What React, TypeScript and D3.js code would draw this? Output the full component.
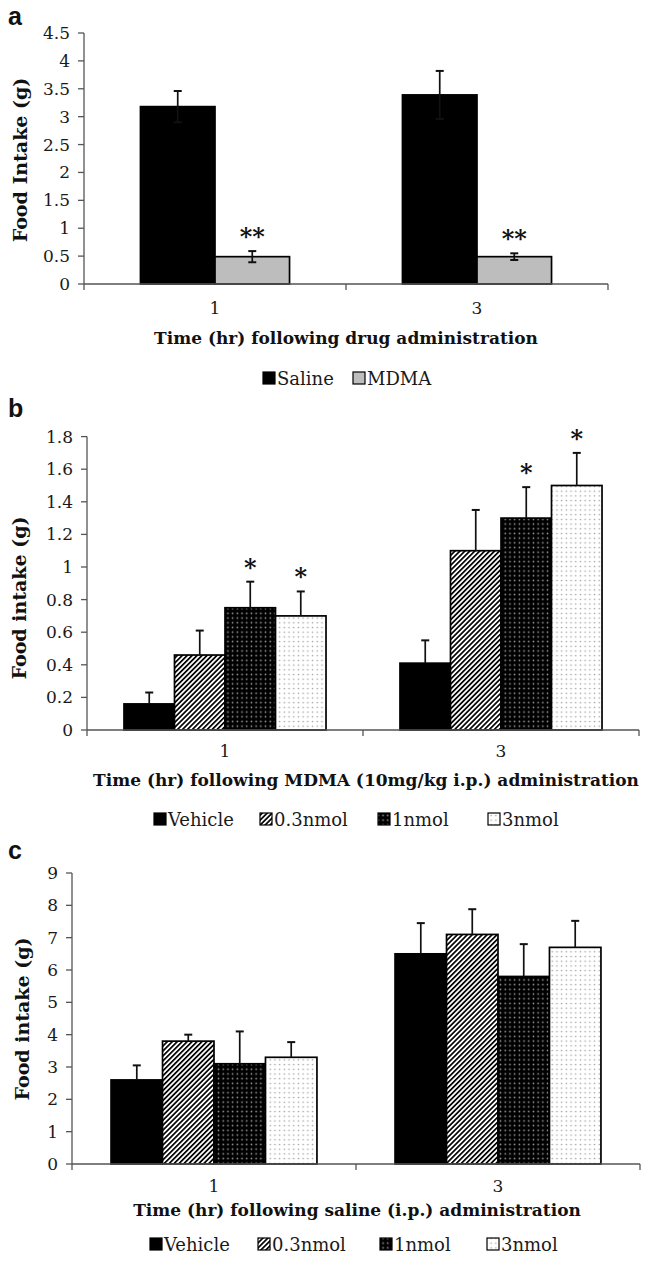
import React from "react";
import * as d3 from "d3";

// ---------- DATA ----------
const timeCats = ["1", "3"];

// Panel a
const seriesA = ["Saline", "MDMA"];
const saline = [3.18, 3.39];
const salineErr = [0.28, 0.43];
const mdma = [0.49, 0.49];
const mdmaErr = [0.1, 0.06];
const starsA = ["", "**"]; // per series (applies to both times)
const ticksA = [0, 0.5, 1, 1.5, 2, 2.5, 3, 3.5, 4, 4.5];

// Panel b & c series
const seriesBC = ["Vehicle", "0.3nmol", "1nmol", "3nmol"];

// Panel b (MDMA)
const bVehicle = [0.16, 0.41];
const bVehicleErr = [0.07, 0.14];
const b03 = [0.46, 1.1];
const b03Err = [0.15, 0.25];
const b1 = [0.75, 1.3];
const b1Err = [0.16, 0.19];
const b3 = [0.7, 1.5];
const b3Err = [0.15, 0.2];
const starsB = [["", "", "*", "*"], ["", "", "*", "*"]];
const ticksB = [0, 0.2, 0.4, 0.6, 0.8, 1, 1.2, 1.4, 1.6, 1.8];

// Panel c (saline)
const cVehicle = [2.6, 6.5];
const cVehicleErr = [0.45, 0.95];
const c03 = [3.8, 7.1];
const c03Err = [0.2, 0.78];
const c1 = [3.1, 5.8];
const c1Err = [1.0, 1.0];
const c3 = [3.3, 6.7];
const c3Err = [0.47, 0.82];
const ticksC = [0, 1, 2, 3, 4, 5, 6, 7, 8, 9];

// ---------- STYLE ----------
const SERIF = "'DejaVu Serif', 'Liberation Serif', serif";
const SANS = "'Liberation Sans', Arial, sans-serif";
const AXIS = "#555";

const fillFor: Record<string, string> = {
  Saline: "#000",
  MDMA: "#bdbdbd",
  Vehicle: "#000",
  "0.3nmol": "url(#hatch)",
  "1nmol": "url(#darkdots)",
  "3nmol": "url(#lightdots)",
};

type Panel = {
  letter: string;
  letterY: number;
  x0: number;
  x1: number;
  yTop: number;
  y0: number;
  max: number;
  ticks: number[];
  band: number;
  series: string[];
  values: number[][];
  errs: number[][];
  twoSided: boolean[];
  stars: string[][];
  yTitle: string;
  yTitleX: number;
  yTitleY: number;
  yTitleSize: number;
  xLabelY: number;
  xTitle: string;
  xTitleX: number;
  xTitleY: number;
  legendY: number;
  legendX: number[];
};

const panels: Panel[] = [
  {
    letter: "a",
    letterY: 25,
    x0: 84,
    x1: 608,
    yTop: 33,
    y0: 284,
    max: 4.5,
    ticks: ticksA,
    band: 0.431,
    series: seriesA,
    values: [saline, mdma],
    errs: [salineErr, mdmaErr],
    twoSided: [true, true],
    stars: timeCats.map(() => starsA),
    yTitle: "Food Intake (g)",
    yTitleX: 20,
    yTitleY: 160,
    yTitleSize: 19,
    xLabelY: 308,
    xTitle: "Time (hr) following drug administration",
    xTitleX: 346,
    xTitleY: 338,
    legendY: 378,
    legendX: [263, 353],
  },
  {
    letter: "b",
    letterY: 417,
    x0: 87,
    x1: 639,
    yTop: 436.6,
    y0: 730,
    max: 1.8,
    ticks: ticksB,
    band: 0.268,
    series: seriesBC,
    values: [bVehicle, b03, b1, b3],
    errs: [bVehicleErr, b03Err, b1Err, b3Err],
    twoSided: [false, false, false, false],
    stars: starsB,
    yTitle: "Food intake (g)",
    yTitleX: 19,
    yTitleY: 598,
    yTitleSize: 19,
    xLabelY: 751,
    xTitle: "Time (hr) following MDMA (10mg/kg i.p.) administration",
    xTitleX: 366,
    xTitleY: 780,
    legendY: 819,
    legendX: [154, 260, 378, 488],
  },
  {
    letter: "c",
    letterY: 859,
    x0: 72,
    x1: 640,
    yTop: 873,
    y0: 1164,
    max: 9,
    ticks: ticksC,
    band: 0.275,
    series: seriesBC,
    values: [cVehicle, c03, c1, c3],
    errs: [cVehicleErr, c03Err, c1Err, c3Err],
    twoSided: [false, false, false, false],
    stars: timeCats.map(() => ["", "", "", ""]),
    yTitle: "Food intake (g)",
    yTitleX: 22,
    yTitleY: 1019,
    yTitleSize: 19,
    xLabelY: 1186,
    xTitle: "Time (hr) following saline (i.p.) administration",
    xTitleX: 357,
    xTitleY: 1210,
    legendY: 1244,
    legendX: [150, 258, 380, 487],
  },
];

function PanelView({ p }: { p: Panel }) {
  const y = d3.scaleLinear().domain([0, p.max]).range([p.y0, p.yTop]);
  const x = d3
    .scaleBand<string>()
    .domain(timeCats)
    .range([p.x0, p.x1])
    .paddingInner(p.band)
    .paddingOuter(p.band / 2);
  const xs = d3
    .scaleBand<string>()
    .domain(p.series)
    .range([0, x.bandwidth()])
    .padding(0);
  const step = x.step();
  const boundaries = d3.range(timeCats.length + 1).map((i) => p.x0 + i * step);

  return (
    <g>
      <text x={8} y={p.letterY} fontFamily={SANS} fontWeight="bold" fontSize={25} fill="#111">
        {p.letter}
      </text>
      {/* y axis */}
      <line x1={p.x0} x2={p.x0} y1={y(p.max)} y2={p.y0} stroke={AXIS} strokeWidth={1.3} />
      {p.ticks.map((t) => (
        <g key={t}>
          <line x1={p.x0 - 6} x2={p.x0} y1={y(t)} y2={y(t)} stroke={AXIS} strokeWidth={1.3} />
          <text
            x={p.x0 - 14}
            y={y(t)}
            textAnchor="end"
            dominantBaseline="central"
            fontFamily={SERIF}
            fontSize={17}
            fill="#1a1a1a"
          >
            {String(t)}
          </text>
        </g>
      ))}
      <text
        transform={`translate(${p.yTitleX},${p.yTitleY}) rotate(-90)`}
        textAnchor="middle"
        dominantBaseline="central"
        fontFamily={SERIF}
        fontWeight="bold"
        fontSize={p.yTitleSize}
        fill="#111"
      >
        {p.yTitle}
      </text>
      {/* bars */}
      {timeCats.map((c, ci) => (
        <g key={c}>
          {p.series.map((s, si) => {
            const bx = (x(c) as number) + (xs(s) as number);
            const bw = xs.bandwidth();
            const v = p.values[si][ci];
            const e = p.errs[si][ci];
            const cx = bx + bw / 2;
            const star = p.stars[ci][si];
            return (
              <g key={s}>
                <rect
                  x={bx}
                  y={y(v)}
                  width={bw}
                  height={p.y0 - y(v)}
                  fill={fillFor[s]}
                  stroke="#000"
                  strokeWidth={1.7}
                />
                <line
                  x1={cx}
                  x2={cx}
                  y1={p.twoSided[si] ? y(v - e) : y(v)}
                  y2={y(v + e)}
                  stroke="#111"
                  strokeWidth={1.7}
                />
                <line x1={cx - 4} x2={cx + 4} y1={y(v + e)} y2={y(v + e)} stroke="#111" strokeWidth={2} />
                {p.twoSided[si] && (
                  <line x1={cx - 4} x2={cx + 4} y1={y(v - e)} y2={y(v - e)} stroke="#111" strokeWidth={2} />
                )}
                {star && (
                  <text
                    x={cx}
                    y={y(v + e) - 6}
                    textAnchor="middle"
                    fontFamily={SERIF}
                    fontWeight="bold"
                    fontSize={24}
                    fill="#111"
                  >
                    {star}
                  </text>
                )}
              </g>
            );
          })}
        </g>
      ))}
      {/* x axis */}
      <line x1={p.x0} x2={p.x1} y1={p.y0} y2={p.y0} stroke={AXIS} strokeWidth={1.3} />
      {boundaries.map((bx, i) => (
        <line key={i} x1={bx} x2={bx} y1={p.y0} y2={p.y0 + 6} stroke={AXIS} strokeWidth={1.3} />
      ))}
      {timeCats.map((c) => (
        <text
          key={c}
          x={(x(c) as number) + x.bandwidth() / 2}
          y={p.xLabelY}
          textAnchor="middle"
          dominantBaseline="central"
          fontFamily={SERIF}
          fontSize={17}
          fill="#1a1a1a"
        >
          {c}
        </text>
      ))}
      <text
        x={p.xTitleX}
        y={p.xTitleY}
        textAnchor="middle"
        dominantBaseline="central"
        fontFamily={SERIF}
        fontWeight="bold"
        fontSize={17}
        fill="#111"
      >
        {p.xTitle}
      </text>
      {/* legend */}
      {p.series.map((s, si) => (
        <g key={s}>
          <rect
            x={p.legendX[si]}
            y={p.legendY - 6}
            width={12}
            height={12}
            fill={fillFor[s]}
            stroke="#000"
            strokeWidth={1.2}
          />
          <text
            x={p.legendX[si] + 14}
            y={p.legendY}
            dominantBaseline="central"
            fontFamily={SERIF}
            fontSize={18}
            fill="#1a1a1a"
          >
            {s}
          </text>
        </g>
      ))}
    </g>
  );
}

export default function App() {
  return (
    <svg
      width={646}
      height={1268}
      viewBox="0 0 646 1268"
      style={{ position: "absolute", left: 0, top: 0, background: "#fff" }}
    >
      <defs>
        <pattern id="hatch" patternUnits="userSpaceOnUse" width={3.5} height={3.5} patternTransform="rotate(45)">
          <rect x={0} y={0} width={3.5} height={3.5} fill="#fff" />
          <rect x={0} y={0} width={1.7} height={3.5} fill="#000" />
        </pattern>
        <pattern id="darkdots" patternUnits="userSpaceOnUse" width={4.7} height={4.7}>
          <rect x={0} y={0} width={4.7} height={4.7} fill="#000" />
          <circle cx={2.35} cy={2.35} r={0.85} fill="#9a9a9a" />
        </pattern>
        <pattern id="lightdots" patternUnits="userSpaceOnUse" width={4.7} height={4.7}>
          <rect x={0} y={0} width={4.7} height={4.7} fill="#fff" />
          <circle cx={2.35} cy={2.35} r={0.8} fill="#a0a0a0" />
        </pattern>
      </defs>
      <rect x={0} y={0} width={646} height={1268} fill="#fff" />
      {panels.map((p) => (
        <PanelView key={p.letter} p={p} />
      ))}
    </svg>
  );
}
